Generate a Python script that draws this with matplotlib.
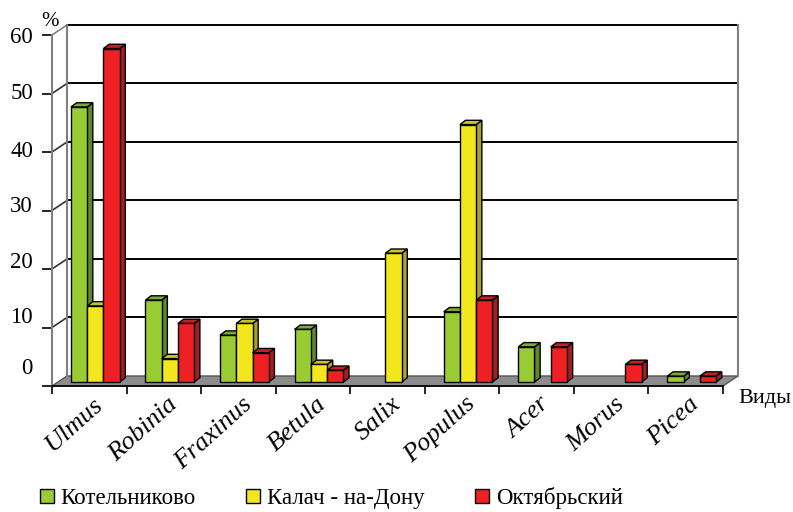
import matplotlib
matplotlib.use('Agg')
import matplotlib.pyplot as plt
import matplotlib.transforms as mtransforms
from matplotlib.patches import Polygon, Patch

species = ['Ulmus', 'Robinia', 'Fraxinus', 'Betula', 'Salix',
           'Populus', 'Acer', 'Morus', 'Picea']
kotelnikovo = [47, 14, 8, 9, 0, 12, 6, 0, 1]
kalach = [13, 4, 10, 3, 22, 44, 0, 0, 0]
oktyabrsky = [57, 10, 5, 2, 0, 14, 6, 3, 1]
series_names = ['Котельниково', 'Калач - на-Дону', 'Октябрьский']
y_ticks = [0, 10, 20, 30, 40, 50, 60]

# front / side / top shades for each series
face_colors = ['#99CC33', '#F2E61C', '#EE2024']
side_colors = ['#5C8A2A', '#A8A230', '#A51E22']
top_colors = ['#7DAA30', '#C9C32A', '#C81E22']

plt.rcParams['font.family'] = ['Liberation Serif', 'DejaVu Serif']

W, H = 793, 512
fig = plt.figure(figsize=(W / 100, H / 100), dpi=100)
ax = fig.add_axes([52 / W, 1 - 386 / H, 686 / W, 361 / H])

n = len(species)
DX, DY = 0.201, 1.71          # depth of the floor / walls
BW = 0.218                    # bar width
BDX, BDY = 0.076, 0.735       # depth of a single bar
SHX, SHY = 0.4 * DX, 0.4 * DY # bars stand in the middle of the floor

ax.set_xlim(0, n + DX)
ax.set_ylim(0, y_ticks[-1] + DY)

for s in ['top', 'right']:
    ax.spines[s].set_visible(False)
ax.spines['left'].set_color('#808080')
ax.spines['left'].set_linewidth(1.5)
ax.spines['left'].set_bounds(0, y_ticks[-1])
ax.spines['bottom'].set_linewidth(1.2)
ax.spines['bottom'].set_bounds(0, n)
ax.set_yticks(y_ticks)
ax.set_yticklabels([])
ax.set_xticks(range(n + 1))
ax.set_xticklabels([])
ax.tick_params(axis='y', length=7, width=1.2, color='black')
ax.tick_params(axis='x', length=6, width=1.2, color='black')

# floor
ax.add_patch(Polygon([(0, 0), (n, 0), (n + DX, DY), (DX, DY)],
                     closed=True, facecolor='#8C8C8C', edgecolor='#555555',
                     lw=1, clip_on=False, zorder=1))

# back wall with grid lines and side wall diagonals
for v in y_ticks[1:]:
    ax.plot([0, DX], [v, v + DY], color='#333333' if v < 60 else '#808080',
            lw=1.2, clip_on=False, zorder=1)
    ax.plot([DX, n + DX], [v + DY, v + DY], color='black', lw=1.4,
            clip_on=False, zorder=1)
ax.plot([DX, DX], [DY, y_ticks[-1] + DY], color='#808080', lw=1.5,
        clip_on=False, zorder=1)
ax.plot([n + DX, n + DX], [DY, y_ticks[-1] + DY], color='#808080', lw=1.5,
        clip_on=False, zorder=1)

# bars with side and top faces
series = [kotelnikovo, kalach, oktyabrsky]
for i in range(n):
    for k, vals in enumerate(series):
        v = vals[i]
        if v == 0:
            continue
        x0 = i + 0.5 + SHX + (k - 1.5) * BW
        b = SHY
        side = [(x0 + BW, b), (x0 + BW + BDX, b + BDY),
                (x0 + BW + BDX, b + v + BDY), (x0 + BW, b + v)]
        top = [(x0, b + v), (x0 + BDX, b + v + BDY),
               (x0 + BW + BDX, b + v + BDY), (x0 + BW, b + v)]
        ax.add_patch(Polygon(side, closed=True, facecolor=side_colors[k],
                             edgecolor='black', lw=1, zorder=2))
        ax.add_patch(Polygon(top, closed=True, facecolor=top_colors[k],
                             edgecolor='black', lw=1, zorder=2))
        ax.bar(x0, v, width=BW, bottom=b, align='edge', color=face_colors[k],
               edgecolor='black', lw=1, zorder=2)

# y labels
label_shift = [17, 10, 7, 4, 1, 0, -2]
for v, sh in zip(y_ticks, label_shift):
    tr = mtransforms.offset_copy(ax.transData, fig=fig, x=-19, y=sh, units='dots')
    ax.text(0, v, str(v), transform=tr, ha='right', va='center', fontsize=16.5)

# category labels
for i, name in enumerate(species):
    tr = mtransforms.offset_copy(ax.transData, fig=fig, x=3, y=-7, units='dots')
    ax.text(i + 0.5, 0, name, transform=tr, rotation=42, ha='right', va='top',
            rotation_mode='anchor', style='italic', fontsize=19)

fig.text(50 / W, 1 - 21 / H, '%', ha='center', va='center', fontsize=15)
fig.text(791 / W, 1 - 398 / H, 'Виды', ha='right', va='center', fontsize=16)

handles = [Patch(facecolor=c, edgecolor='black', lw=1) for c in face_colors]
fig.legend(handles, series_names, loc='center left',
           bbox_to_anchor=(31 / W, 1 - 498 / H), ncol=3, frameon=False,
           fontsize=16.5, handlelength=0.6, handleheight=0.6,
           handletextpad=0.3, columnspacing=2.2, borderaxespad=0)

fig.savefig('out.png', dpi=100)
